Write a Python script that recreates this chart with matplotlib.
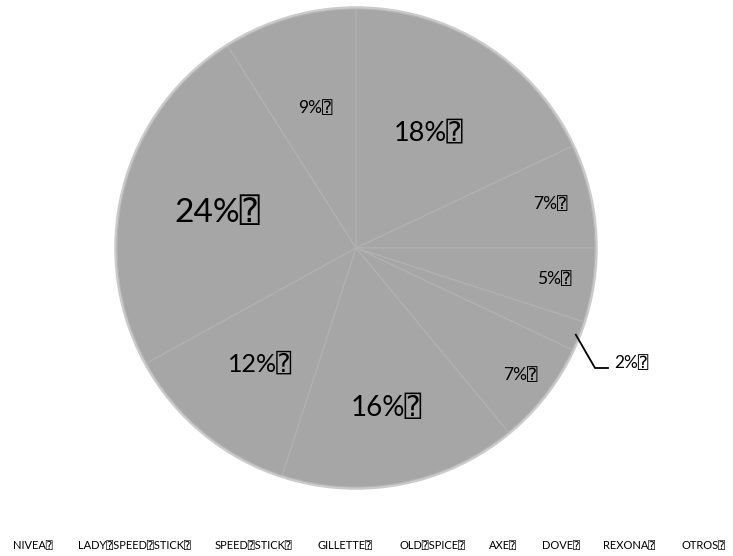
import matplotlib
matplotlib.use("Agg")
import matplotlib.pyplot as plt
import numpy as np

marcas = ['NIVEA', 'LADY SPEED STICK', 'SPEED STICK', 'GILLETTE', 'OLD SPICE',
          'AXE', 'DOVE', 'REXONA', 'OTROS']
porcentajes = [18, 7, 5, 2, 7, 16, 12, 24, 9]

BOX = '\u2370'
fuentes = ['Lato', 'DejaVu Sans', 'DejaVu Sans Mono', 'Noto Sans']
plt.rcParams['font.family'] = fuentes

# label size and radial distance per slice
tam_etiqueta = [19.5, 12.5, 12.5, 12.5, 12.5, 20, 18, 24, 12.5]
dist_etiqueta = [0.57, 0.835, 0.84, None, 0.87, 0.68, 0.63, 0.60, 0.61]

fig = plt.figure(figsize=(7.33, 5.56), dpi=100)
R = 239.0
cx, cy = 356.0, 556 - 248.0
ax = fig.add_axes([(cx - 1.5 * R) / 733, (cy - 1.05 * R) / 556,
                   3.0 * R / 733, 2.1 * R / 556])

# soft edge
ax.add_patch(plt.Circle((0, 0), 1.0, facecolor='none', edgecolor='#cbcbcb', lw=4, zorder=0))

wedges, _ = ax.pie(porcentajes, startangle=90, counterclock=False, radius=1.0,
                   colors=['#a6a6a6'] * len(porcentajes),
                   wedgeprops=dict(edgecolor='#b2b2b2', linewidth=0.8))
ax.set_aspect('auto')
ax.set_xlim(-1.5, 1.5)
ax.set_ylim(-1.05, 1.05)
ax.axis('off')

for w, p, fs, d in zip(wedges, porcentajes, tam_etiqueta, dist_etiqueta):
    ang = np.deg2rad((w.theta1 + w.theta2) / 2)
    txt = f'{p}%{BOX}'
    if d is None:
        x0, y0 = 1.0 * np.cos(ang), 1.0 * np.sin(ang)
        x1, y1 = (595 - cx) / R, -(368 - 248) / R
        ax.plot([x0 - 0.01, x1, x1 + 13 / R], [y0 + 0.005, y1, y1], color='black', lw=1.3)
        ax.text(x1 + 19 / R, y1 + 5 / R, txt, fontsize=fs, ha='left', va='center')
    else:
        ax.text(d * np.cos(ang), d * np.sin(ang), txt, fontsize=fs,
                ha='center', va='center')

xs_leyenda = [13, 78, 215, 318, 399, 489, 542, 603, 682]
for x, m in zip(xs_leyenda, marcas):
    fig.text(x / 733, 1 - 545 / 556, m.replace(' ', BOX) + BOX, fontsize=8,
             ha='left', va='center')

fig.savefig('out.png', dpi=100)
